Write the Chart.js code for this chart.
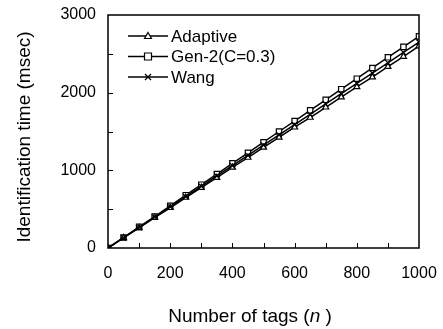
<!DOCTYPE html>
<html>
<head>
<meta charset="utf-8">
<script src="https://cdn.jsdelivr.net/npm/chart.js@4"></script>
<style>
  html, body { margin: 0; padding: 0; background: #fff; }
  #wrap { width: 443px; height: 329px; }
</style>
</head>
<body>
<div id="wrap"><canvas id="tagsChart" width="443" height="329"></canvas></div>
<script>
const tagCounts = [0, 50, 100, 150, 200, 250, 300, 350, 400, 450, 500, 550, 600, 650, 700, 750, 800, 850, 900, 950, 1000];
const adaptiveTimes = [0, 130, 258, 390, 518, 650, 778, 905, 1038, 1165, 1295, 1425, 1555, 1680, 1812, 1942, 2075, 2200, 2335, 2465, 2600];
const gen2Times = [0, 135, 272, 405, 542, 680, 815, 952, 1090, 1225, 1362, 1500, 1635, 1772, 1908, 2045, 2180, 2318, 2455, 2590, 2725];
const wangTimes = [0, 132, 264, 398, 530, 662, 795, 928, 1060, 1192, 1325, 1458, 1590, 1722, 1855, 1988, 2120, 2252, 2385, 2518, 2650];
const xTicks = [0, 200, 400, 600, 800, 1000];
const yTicks = [0, 1000, 2000, 3000];

const seriesNames = ['Adaptive', 'Gen-2(C=0.3)', 'Wang'];
const seriesMarkers = ['triangle', 'rect', 'crossRot'];

const FONT = 'Liberation Sans, Arial, sans-serif';

function points(values) {
    return tagCounts.map((n, i) => ({ x: n, y: values[i] }));
}

function drawMarker(ctx, style, x, y) {
    ctx.save();
    ctx.strokeStyle = '#000';
    ctx.fillStyle = '#fff';
    ctx.lineWidth = 1.2;
    ctx.beginPath();
    if (style === 'triangle') {
        ctx.moveTo(x, y - 3.5);
        ctx.lineTo(x + 3.5, y + 2.5);
        ctx.lineTo(x - 3.5, y + 2.5);
        ctx.closePath();
        ctx.fill();
        ctx.stroke();
    } else if (style === 'rect') {
        ctx.rect(x - 3.5, y - 3.5, 7, 7);
        ctx.fill();
        ctx.stroke();
    } else {
        ctx.moveTo(x - 3, y - 3); ctx.lineTo(x + 3, y + 3);
        ctx.moveTo(x + 3, y - 3); ctx.lineTo(x - 3, y + 3);
        ctx.stroke();
    }
    ctx.restore();
}

// frame, inward ticks, axis titles and legend
const framePlugin = {
    id: 'frame',
    afterDraw(chart) {
        const ctx = chart.ctx;
        const a = chart.chartArea;
        const xs = chart.scales.x, ys = chart.scales.y;
        ctx.save();
        ctx.strokeStyle = '#000';
        ctx.lineWidth = 1.5;
        ctx.strokeRect(a.left, a.top, a.right - a.left, a.bottom - a.top);
        ctx.lineWidth = 1;
        ctx.beginPath();
        for (let v = 100; v < 1000; v += 100) {
            const px = Math.round(xs.getPixelForValue(v)) + 0.5;
            ctx.moveTo(px, a.bottom);
            ctx.lineTo(px, a.bottom - 5);
        }
        for (let v = 500; v < 3000; v += 500) {
            const py = Math.round(ys.getPixelForValue(v)) + 0.5;
            ctx.moveTo(a.left, py);
            ctx.lineTo(a.left + 5, py);
        }
        ctx.stroke();

        ctx.fillStyle = '#000';

        // x title with italic n
        ctx.textBaseline = 'alphabetic';
        const t1 = 'Number of tags (', t2 = 'n', t3 = ' )';
        ctx.font = '19px ' + FONT;
        const w1 = ctx.measureText(t1).width, w3 = ctx.measureText(t3).width;
        ctx.font = 'italic 19px ' + FONT;
        const w2 = ctx.measureText(t2).width;
        const x0 = 250 - (w1 + w2 + w3) / 2;
        ctx.font = '19px ' + FONT;
        ctx.fillText(t1, x0, 322);
        ctx.font = 'italic 19px ' + FONT;
        ctx.fillText(t2, x0 + w1, 322);
        ctx.font = '19px ' + FONT;
        ctx.fillText(t3, x0 + w1 + w2, 322);

        // y title
        ctx.save();
        ctx.translate(30, 137);
        ctx.rotate(-Math.PI / 2);
        ctx.textAlign = 'center';
        ctx.fillText('Identification time (msec)', 0, 0);
        ctx.restore();

        // legend
        ctx.textBaseline = 'middle';
        ctx.font = '17px ' + FONT;
        seriesNames.forEach((name, i) => {
            const y = 36 + i * 20.5;
            ctx.beginPath();
            ctx.lineWidth = 1.5;
            ctx.moveTo(128, y);
            ctx.lineTo(168, y);
            ctx.stroke();
            drawMarker(ctx, seriesMarkers[i], 148, y);
            ctx.fillText(name, 171, y + 1);
        });
        ctx.restore();
    }
};

function makeSet(label, values, style) {
    return {
        label: label,
        data: points(values),
        borderColor: '#000',
        backgroundColor: '#fff',
        borderWidth: 1.5,
        pointStyle: style,
        pointRadius: style === 'triangle' ? 3.5 : 3.8,
        pointBorderWidth: 1.2,
        pointBorderColor: '#000',
        pointBackgroundColor: '#fff',
        tension: 0
    };
}

const ctx = document.getElementById('tagsChart').getContext('2d');
const chart = new Chart(ctx, {
    type: 'line',
    data: {
        datasets: [
            makeSet('Wang', wangTimes, 'crossRot'),
            makeSet('Adaptive', adaptiveTimes, 'triangle'),
            makeSet('Gen-2(C=0.3)', gen2Times, 'rect')
        ]
    },
    options: {
        responsive: false,
        animation: false,
        layout: { padding: { top: 15, right: 24, left: 0, bottom: 0 } },
        plugins: { legend: { display: false }, tooltip: { enabled: false } },
        scales: {
            x: {
                type: 'linear',
                min: 0,
                max: 1000,
                afterFit: s => { s.height = 81; s.paddingRight = 0; s.paddingLeft = 0; },
                afterBuildTicks: s => { s.ticks = xTicks.map(v => ({ value: v })); },
                grid: { display: false, drawTicks: false },
                border: { display: false },
                ticks: { color: '#000', font: { family: FONT, size: 16 }, padding: 16, maxRotation: 0, callback: v => String(v) }
            },
            y: {
                min: 0,
                max: 3000,
                afterFit: s => { s.width = 108; s.paddingTop = 0; s.paddingBottom = 0; },
                afterBuildTicks: s => { s.ticks = yTicks.map(v => ({ value: v })); },
                grid: { display: false, drawTicks: false },
                border: { display: false },
                ticks: { color: '#000', font: { family: FONT, size: 16 }, padding: 12, callback: v => String(v) }
            }
        }
    },
    plugins: [framePlugin]
});
</script>
</body>
</html>
